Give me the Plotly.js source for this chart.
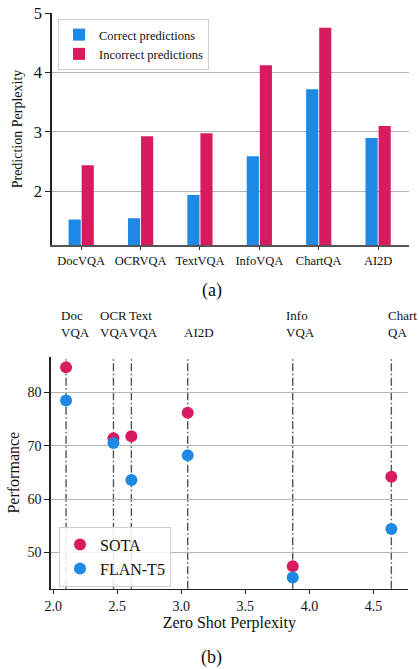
<!DOCTYPE html>
<html>
<head>
<meta charset="utf-8">
<script src="https://cdn.plot.ly/plotly-3.0.1.min.js"></script>
<style>html,body{margin:0;padding:0;background:#fff;}#chart{width:419px;height:669px;}</style>
</head>
<body>
<div id="chart"></div>
<script>
// ---- Data: panel (a) ----
const categoriesA = ["DocVQA", "OCRVQA", "TextVQA", "InfoVQA", "ChartQA", "AI2D"];
const correctPerplexity = [1.53, 1.55, 1.94, 2.59, 3.72, 2.90];
const incorrectPerplexity = [2.44, 2.93, 2.98, 4.12, 4.75, 3.10];

// ---- Data: panel (b) ----
const datasetLabelsB = ["Doc<br>VQA", "OCR<br>VQA", "Text<br>VQA", "AI2D", "Info<br>VQA", "Chart<br>QA"];
const zeroShotPerplexity = [2.10, 2.47, 2.61, 3.05, 3.87, 4.64];
const sotaPerformance = [84.7, 71.4, 71.8, 76.2, 47.4, 64.2];
const flanT5Performance = [78.5, 70.5, 63.6, 68.2, 45.3, 54.4];

const BLUE = "#1E88E5";
const RED = "#D81B60";
const FONT = "'Liberation Serif', 'Times New Roman', serif";
const labelShift = [-7, -15, -4, -6, -9, -5];

const traces = [
  {type: "bar", x: categoriesA, y: correctPerplexity, name: "Correct predictions",
   marker: {color: BLUE}, xaxis: "x", yaxis: "y", legend: "legend"},
  {type: "bar", x: categoriesA, y: incorrectPerplexity, name: "Incorrect predictions",
   marker: {color: RED}, xaxis: "x", yaxis: "y", legend: "legend"},
  {type: "scatter", mode: "markers", x: zeroShotPerplexity, y: sotaPerformance, name: "SOTA",
   marker: {color: RED, size: 12}, xaxis: "x2", yaxis: "y2", legend: "legend2", cliponaxis: false},
  {type: "scatter", mode: "markers", x: zeroShotPerplexity, y: flanT5Performance, name: "FLAN-T5",
   marker: {color: BLUE, size: 12}, xaxis: "x2", yaxis: "y2", legend: "legend2", cliponaxis: false}
];

const shapes = zeroShotPerplexity.map(v => ({
  type: "line", xref: "x2", yref: "y2 domain", x0: v, x1: v, y0: 0, y1: 1,
  line: {color: "#555", width: 1.4, dash: "8px,2.5px,1.5px,2.5px"}, layer: "below"
}));

const annotations = zeroShotPerplexity.map((v, i) => ({
  xref: "x2", yref: "paper", x: v, y: 1 - 342/669, xanchor: "left", yanchor: "bottom",
  xshift: labelShift[i], text: datasetLabelsB[i], showarrow: false, align: "left",
  font: {family: FONT, size: 13, color: "#111"}
}));
annotations.push(
  {xref: "paper", yref: "paper", x: 212/419, y: 1 - 290/669, text: "(a)", showarrow: false,
   xanchor: "center", yanchor: "middle", font: {family: FONT, size: 18, color: "#111"}},
  {xref: "paper", yref: "paper", x: 212/419, y: 1 - 657/669, text: "(b)", showarrow: false,
   xanchor: "center", yanchor: "middle", font: {family: FONT, size: 18, color: "#111"}}
);

const layout = {
  width: 419, height: 669,
  margin: {l: 0, r: 0, t: 0, b: 0},
  paper_bgcolor: "#fff", plot_bgcolor: "#fff",
  font: {family: FONT, color: "#111"},
  barmode: "group", bargap: 0.56, bargroupgap: 0.07,
  xaxis: {
    domain: [51.5/419, 409/419], anchor: "y", type: "category",
    range: [-0.5, 5.52],
    showline: true, linecolor: "#555", linewidth: 2, ticks: "outside", ticklen: 3,
    tickcolor: "#333", showgrid: false, zeroline: false,
    tickfont: {family: FONT, size: 12.5, color: "#111"}
  },
  yaxis: {
    domain: [1 - 245/669, 1 - 13/669], anchor: "x",
    range: [1.1, 5.0], tickvals: [2, 3, 4, 5],
    showline: true, linecolor: "#222", linewidth: 1.3, ticks: "outside", ticklen: 5,
    tickcolor: "#222", showgrid: true, gridcolor: "#b5b5b5", gridwidth: 1, zeroline: false,
    tickfont: {family: FONT, size: 16.5, color: "#111"},
    title: {text: "Prediction Perplexity", font: {family: FONT, size: 14, color: "#111"}, standoff: 7}
  },
  xaxis2: {
    domain: [50.7/419, 408/419], anchor: "y2",
    range: [1.98, 4.77], tickvals: [2.0, 2.5, 3.0, 3.5, 4.0, 4.5], tickformat: ".1f",
    showline: true, linecolor: "#222", linewidth: 1.3, ticks: "outside", ticklen: 4,
    tickcolor: "#222", showgrid: false, zeroline: false,
    tickfont: {family: FONT, size: 14, color: "#111"},
    title: {text: "Zero Shot Perplexity", font: {family: FONT, size: 16, color: "#111"}, standoff: 4}
  },
  yaxis2: {
    domain: [1 - 588.7/669, 1 - 356.7/669], anchor: "x2",
    range: [43.2, 86.7], tickvals: [50, 60, 70, 80],
    showline: true, linecolor: "#222", linewidth: 1.3, ticks: "outside", ticklen: 5,
    tickcolor: "#222", showgrid: true, gridcolor: "#b5b5b5", gridwidth: 1, zeroline: false,
    tickfont: {family: FONT, size: 14, color: "#111"},
    title: {text: "Performance", font: {family: FONT, size: 16, color: "#111"}, standoff: 4}
  },
  legend: {
    x: 58/419, y: 1 - 19/669, xanchor: "left", yanchor: "top",
    bgcolor: "rgba(255,255,255,0.85)", bordercolor: "#ccc", borderwidth: 1,
    font: {family: FONT, size: 12.5, color: "#111"}, tracegroupgap: 0
  },
  legend2: {
    x: 59/419, y: 1 - 526.7/669, xanchor: "left", yanchor: "top",
    bgcolor: "rgba(255,255,255,0.85)", bordercolor: "#ccc", borderwidth: 1,
    font: {family: FONT, size: 16, color: "#111"}, itemsizing: "constant"
  },
  showlegend: true,
  shapes: shapes,
  annotations: annotations
};

Plotly.newPlot("chart", traces, layout, {displayModeBar: false, staticPlot: true});
</script>
</body>
</html>
